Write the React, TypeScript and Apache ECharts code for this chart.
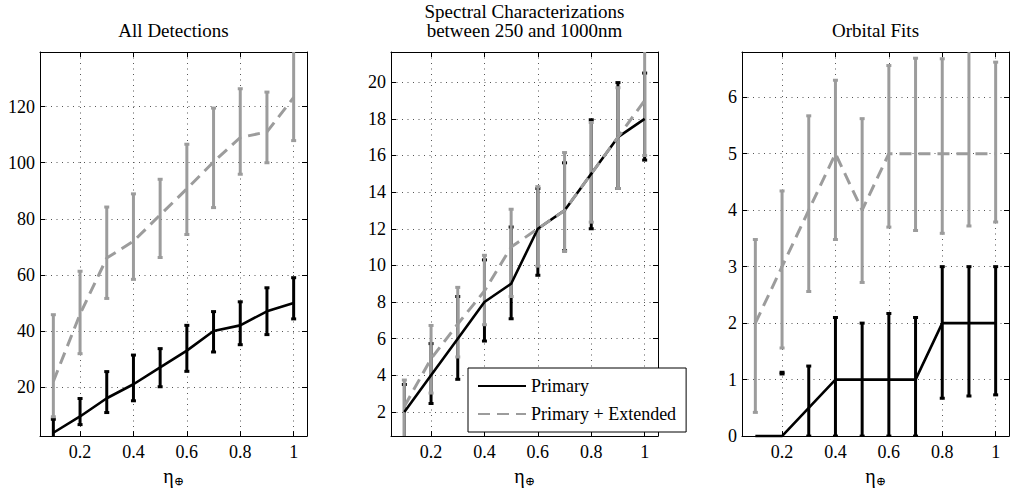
import { useEffect, useRef } from 'react';
import * as echarts from 'echarts';

// eta_earth values (x)
const etaValues = [0.1, 0.2, 0.3, 0.4, 0.5, 0.6, 0.7, 0.8, 0.9, 1.0];
const xTickValues = [0.2, 0.4, 0.6, 0.8, 1.0];

// Panel 1: All Detections
const detPrimary = [3.7, 9.5, 16, 21, 27, 33, 40, 42, 47, 50];
const detPrimaryLo = [-1, 6.6, 10.9, 15.1, 20.1, 25.6, 32.5, 35.1, 38.7, 44.3];
const detPrimaryHi = [8.5, 15.9, 25.5, 31.4, 33.7, 42, 46.9, 50.4, 55.4, 59];
const detExtended = [22, 46, 66, 72, 81.4, 90.7, 100.3, 109, 111, 123.3];
const detExtendedLo = [9.4, 31.9, 51.6, 58.4, 66.2, 74.4, 84, 95.9, 100, 107.9];
const detExtendedHi = [45.8, 61.3, 84.2, 88.9, 94.1, 106.6, 119.5, 126.4, 125.2, 145];
const detYTicks = [20, 40, 60, 80, 100, 120];

// Panel 2: Spectral Characterizations
const specPrimary = [2, 4, 6, 8, 9, 12, 13, 15, 17, 18];
const specPrimaryLo = [0.5, 2.46, 3.78, 5.87, 7.08, 9.46, 10.8, 12.0, 14.2, 15.75];
const specPrimaryHi = [3.5, 5.73, 8.3, 10.3, 12.1, 14.2, 15.6, 17.95, 19.98, 20.5];
const specExtended = [2.3, 4.9, 6.8, 8.6, 11, 12, 13, 15, 17, 19];
const specExtendedLo = [0.3, 3.03, 5.0, 6.76, 8.3, 9.96, 10.76, 12.36, 14.2, 16.0];
const specExtendedHi = [3.74, 6.72, 8.8, 10.55, 13.07, 14.3, 16.16, 17.8, 19.7, 22.5];
const specYTicks = [2, 4, 6, 8, 10, 12, 14, 16, 18, 20];

// Panel 3: Orbital Fits
const orbPrimary = [0, 0, 0.5, 1, 1, 1, 1, 2, 2, 2];
const orbPrimaryLo = [null, 1.1, 0, 0, 0, 0, 0, 0.67, 0.71, 0.73];
const orbPrimaryHi = [null, 1.13, 1.24, 2.1, 2.0, 2.17, 2.1, 3.0, 3.0, 3.0];
const orbExtended = [2, 3, 4, 5, 4, 5, 5, 5, 5, 5];
const orbExtendedLo = [0.42, 1.56, 2.56, 3.48, 2.72, 3.7, 3.64, 3.59, 3.72, 3.79];
const orbExtendedHi = [3.48, 4.34, 5.67, 6.3, 5.62, 6.56, 6.69, 6.68, 7.0, 6.62];
const orbYTicks = [0, 1, 2, 3, 4, 5, 6];

const titles = ['All Detections', 'Spectral Characterizations\nbetween 250 and 1000nm', 'Orbital Fits'];
const seriesNames = ['Primary', 'Primary + Extended'];
const xAxisName = '{e|η}{s|⊕}';

const yRanges = [
  { min: 2.5, max: 139.5, ticks: detYTicks },
  { min: 0.68, max: 21.65, ticks: specYTicks },
  { min: 0, max: 6.8, ticks: orbYTicks },
];
const xRange = { min: 0.05, max: 1.05 };

const SERIF = 'Liberation Serif, DejaVu Serif, serif';
const BLACK = '#000000';
const GRAY = '#9c9c9c';

const gridLefts = [40, 391, 742];
const GRID_TOP = 52;
const GRID_W = 267;
const GRID_H = 392;

function pairs(ys: (number | null)[]) {
  return etaValues.map((x, i) => [x, ys[i]]);
}
function triples(lo: (number | null)[], hi: (number | null)[]) {
  const out: number[][] = [];
  etaValues.forEach((x, i) => {
    if (lo[i] !== null && hi[i] !== null) out.push([x, lo[i] as number, hi[i] as number]);
  });
  return out;
}

function errorBarSeries(name: string, gi: number, data: number[][], color: string) {
  return {
    type: 'custom',
    name,
    xAxisIndex: gi * 2,
    yAxisIndex: gi * 2,
    clip: true,
    data,
    encode: { x: 0, y: [1, 2] },
    renderItem: (params: any, api: any) => {
      const x = api.value(0);
      const p1 = api.coord([x, api.value(1)]);
      const p2 = api.coord([x, api.value(2)]);
      const cw = 2.5;
      return {
        type: 'group',
        children: [
          { type: 'line', shape: { x1: p1[0], y1: p1[1], x2: p2[0], y2: p2[1] }, style: { stroke: color, lineWidth: 3 } },
          { type: 'rect', shape: { x: p1[0] - cw, y: p1[1] - 1.5, width: cw * 2, height: 3 }, style: { fill: color } },
          { type: 'rect', shape: { x: p2[0] - cw, y: p2[1] - 1.5, width: cw * 2, height: 3 }, style: { fill: color } },
        ],
      };
    },
  };
}

function lineSeries(name: string, gi: number, data: any[], color: string, dashed: boolean) {
  return {
    type: 'line',
    name,
    xAxisIndex: gi * 2,
    yAxisIndex: gi * 2,
    data,
    symbol: 'none',
    showSymbol: false,
    clip: true,
    lineStyle: { color, width: dashed ? 3 : 2.6, type: dashed ? [12, 7] : 'solid' },
    itemStyle: { color },
  };
}

export default function App() {
  const ref = useRef<HTMLDivElement>(null);
  useEffect(() => {
    document.body.style.margin = '0';
    const chart = echarts.init(ref.current!, null, { renderer: 'svg' });

    const grids = gridLefts.map((left) => ({ left, top: GRID_TOP, width: GRID_W, height: GRID_H, containLabel: false }));
    const gridDots = { show: true, lineStyle: { type: [1, 4.5], color: '#555', width: 1 } };

    const xAxes: any[] = [];
    const yAxes: any[] = [];
    gridLefts.forEach((_, gi) => {
      const base = {
        type: 'value',
        gridIndex: gi,
        min: xRange.min,
        max: xRange.max,
        axisLine: { show: true, onZero: false, lineStyle: { color: BLACK, width: 1 } },
        axisTick: { show: true, inside: true, length: 5, customValues: xTickValues, lineStyle: { color: BLACK } },
      };
      xAxes.push({
        ...base,
        position: 'bottom',
        axisLabel: { customValues: xTickValues, margin: 7, fontSize: 18, fontFamily: SERIF, color: BLACK },
        splitLine: gridDots,
        name: xAxisName,
        nameLocation: 'middle',
        nameGap: 22,
        nameTextStyle: {
          color: BLACK,
          fontFamily: SERIF,
          fontSize: 18,
          rich: {
            e: { fontSize: 20, fontFamily: SERIF, color: BLACK },
            s: { fontSize: 12, fontFamily: 'DejaVu Serif, serif', color: BLACK, padding: [10, 0, 0, 0] },
          },
        },
      });
      xAxes.push({ ...base, position: 'top', axisLabel: { show: false }, splitLine: { show: false } });

      const yr = yRanges[gi];
      const ybase = {
        type: 'value',
        gridIndex: gi,
        min: yr.min,
        max: yr.max,
        axisLine: { show: true, onZero: false, lineStyle: { color: BLACK, width: 1 } },
        axisTick: { show: true, inside: true, length: 5, customValues: yr.ticks, lineStyle: { color: BLACK } },
      };
      yAxes.push({
        ...ybase,
        position: 'left',
        axisLabel: { customValues: yr.ticks, margin: 5, fontSize: 18, fontFamily: SERIF, color: BLACK },
        splitLine: gridDots,
      });
      yAxes.push({ ...ybase, position: 'right', axisLabel: { show: false }, splitLine: { show: false } });
    });

    const panels = [
      { p: detPrimary, pl: detPrimaryLo, ph: detPrimaryHi, e: detExtended, el: detExtendedLo, eh: detExtendedHi },
      { p: specPrimary, pl: specPrimaryLo, ph: specPrimaryHi, e: specExtended, el: specExtendedLo, eh: specExtendedHi },
      { p: orbPrimary, pl: orbPrimaryLo, ph: orbPrimaryHi, e: orbExtended, el: orbExtendedLo, eh: orbExtendedHi },
    ];

    const series: any[] = [];
    panels.forEach((pd, gi) => {
      series.push(errorBarSeries(seriesNames[0] + ' err', gi, triples(pd.pl, pd.ph), BLACK));
      series.push(lineSeries(seriesNames[0], gi, pairs(pd.p), BLACK, false));
      series.push(errorBarSeries(seriesNames[1] + ' err', gi, triples(pd.el, pd.eh), GRAY));
      series.push(lineSeries(seriesNames[1], gi, pairs(pd.e), GRAY, true));
    });

    chart.setOption({
      animation: false,
      backgroundColor: '#ffffff',
      title: titles.map((t, gi) => ({
        text: t,
        left: gridLefts[gi] + GRID_W / 2,
        top: t.includes('\n') ? 2 : 21,
        textAlign: 'center',
        padding: 0,
        textStyle: { fontFamily: SERIF, fontSize: 19, fontWeight: 'normal', color: BLACK, lineHeight: 19 },
      })),
      legend: {
        data: seriesNames,
        orient: 'vertical',
        left: 468,
        top: 368,
        padding: [9, 10, 9, 9],
        itemGap: 10,
        itemWidth: 48,
        itemHeight: 14,
        itemStyle: { opacity: 0 },
        backgroundColor: '#ffffff',
        borderColor: BLACK,
        borderWidth: 1,
        borderRadius: 0,
        z: 10,
        textStyle: { fontFamily: SERIF, fontSize: 18, color: BLACK },
      },
      grid: grids,
      xAxis: xAxes,
      yAxis: yAxes,
      series,
    });
    return () => chart.dispose();
  }, []);
  return <div ref={ref} style={{ width: 1010, height: 492 }} />;
}
